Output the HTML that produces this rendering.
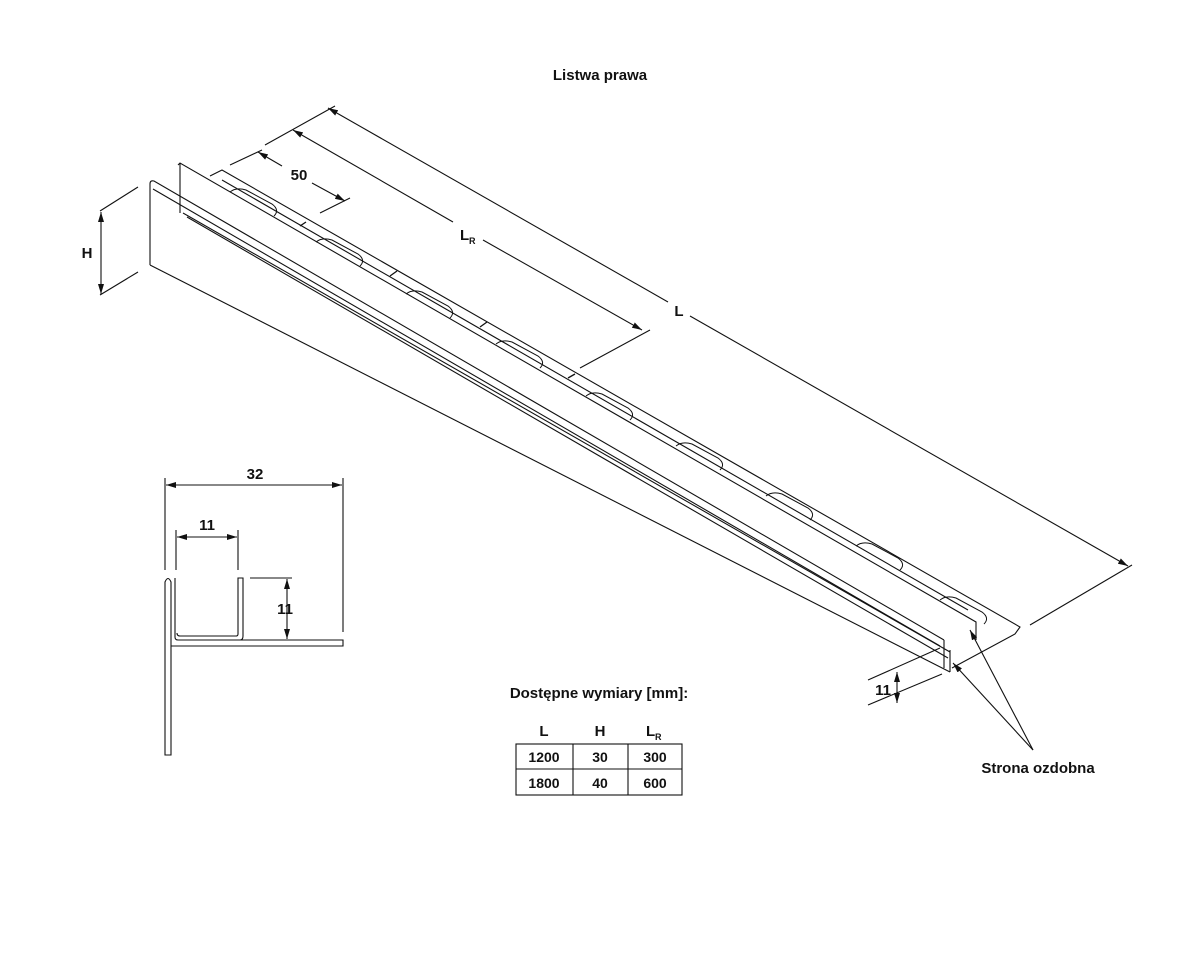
<!DOCTYPE html>
<html><head><meta charset="utf-8"><style>
html,body{margin:0;padding:0;background:#fff}
svg{display:block}
text{font-family:"Liberation Sans",Arial,sans-serif;font-weight:bold;fill:#111}
</style></head><body>
<svg width="1200" height="959" viewBox="0 0 1200 959" xmlns="http://www.w3.org/2000/svg">
<defs>
<marker id="a" viewBox="0 0 10 6" refX="10" refY="3" markerWidth="10" markerHeight="6" orient="auto-start-reverse" markerUnits="userSpaceOnUse"><path d="M0,0L10,3L0,6z" fill="#111"/></marker>
</defs>
<text x="600" y="80" font-size="15" text-anchor="middle">Listwa prawa</text>
<g stroke="#111" fill="none" stroke-width="1.1">
<!-- H dimension -->
<line x1="100" y1="211" x2="138" y2="187"/>
<line x1="100" y1="295" x2="138" y2="272"/>
<line x1="101" y1="212" x2="101" y2="294" marker-start="url(#a)" marker-end="url(#a)"/>
<!-- front panel -->
<path d="M150,265 L150,184 Q150,180 154,181 L944,640"/>
<line x1="150" y1="265" x2="950" y2="672"/>
<line x1="944" y1="640" x2="944" y2="668"/>
<line x1="950" y1="650" x2="950" y2="672"/>
<line x1="153" y1="189" x2="940" y2="646"/>
<!-- rear wall -->
<path d="M178,165 L180,163 L976,622 L976,640"/>
<line x1="180" y1="163" x2="180" y2="213"/>
<line x1="183" y1="213" x2="950" y2="652"/>
<line x1="187" y1="217" x2="948" y2="658"/>
<!-- base plate outer -->
<path d="M210,176 L222,170 L1020,627 L1015,634 L952,668"/>
<line x1="222" y1="180" x2="968" y2="610"/>
<!-- slots -->
<g stroke-width="1">
<path d="M230,192 q6,-5 16,-2 l26,14 q8,6 2,12"/>
<path d="M316,242 q6,-5 16,-2 l26,14 q8,6 2,12"/>
<path d="M406,294 q6,-5 16,-2 l26,14 q8,6 2,12"/>
<path d="M496,344 q6,-5 16,-2 l26,14 q8,6 2,12"/>
<path d="M586,396 q6,-5 16,-2 l26,14 q8,6 2,12"/>
<path d="M676,446 q6,-5 16,-2 l26,14 q8,6 2,12"/>
<path d="M766,496 q6,-5 16,-2 l26,14 q8,6 2,12"/>
<path d="M856,546 q6,-5 16,-2 l26,14 q8,6 2,12"/>
<path d="M940,600 q6,-5 16,-2 l26,14 q8,6 2,12"/>
</g>
<g stroke-width="1.3">
<line x1="300" y1="226" x2="306" y2="222"/>
<line x1="390" y1="276" x2="397" y2="271"/>
<line x1="480" y1="327" x2="487" y2="322"/>
<line x1="568" y1="378" x2="575" y2="374"/>
</g>
<!-- extension lines top -->
<line x1="230" y1="165" x2="262" y2="150"/>
<line x1="320" y1="213" x2="350" y2="198"/>
<line x1="265" y1="145" x2="335" y2="106"/>
<line x1="580" y1="368" x2="650" y2="330"/>
<line x1="1030" y1="625" x2="1132" y2="565"/>
<!-- 50 -->
<line x1="258" y1="152" x2="282" y2="166" marker-start="url(#a)"/>
<line x1="312" y1="183" x2="345" y2="201" marker-end="url(#a)"/>
<!-- LR -->
<line x1="293" y1="130" x2="453" y2="222" marker-start="url(#a)"/>
<line x1="483" y1="240" x2="642" y2="330" marker-end="url(#a)"/>
<!-- L -->
<line x1="328" y1="108" x2="668" y2="302" marker-start="url(#a)"/>
<line x1="690" y1="316" x2="1128" y2="566" marker-end="url(#a)"/>
<!-- 11 right -->
<line x1="868" y1="680" x2="940" y2="648"/>
<line x1="868" y1="705" x2="942" y2="674"/>
<line x1="897" y1="672" x2="897" y2="703" marker-start="url(#a)" marker-end="url(#a)"/>
<!-- Strona ozdobna leaders -->
<line x1="1033" y1="750" x2="953" y2="663" marker-end="url(#a)"/>
<line x1="1033" y1="750" x2="970" y2="630" marker-end="url(#a)"/>
<!-- cross section -->
<path d="M165,755 L165,582 Q168,575 171,582 L171,755 Z"/>
<path d="M171,646 L343,646 L343,640 L178,640 Q175,640 175,637 L175,578"/>
<path d="M178,640 L240,640 Q243,640 243,636 L243,578 L238,578 L238,634 Q238,636 236,636 L180,636 Q177,636 177,633"/>
<line x1="171" y1="646" x2="171" y2="646"/>
<line x1="165" y1="478" x2="165" y2="570"/>
<line x1="343" y1="478" x2="343" y2="632"/>
<line x1="166" y1="485" x2="342" y2="485" marker-start="url(#a)" marker-end="url(#a)"/>
<line x1="176" y1="530" x2="176" y2="570"/>
<line x1="238" y1="530" x2="238" y2="570"/>
<line x1="177" y1="537" x2="237" y2="537" marker-start="url(#a)" marker-end="url(#a)"/>
<line x1="250" y1="578" x2="292" y2="578"/>
<line x1="287" y1="579" x2="287" y2="639" marker-start="url(#a)" marker-end="url(#a)"/>
<!-- table -->
<rect x="516" y="744" width="166" height="51"/>
<line x1="516" y1="769" x2="682" y2="769"/>
<line x1="573" y1="744" x2="573" y2="795"/>
<line x1="628" y1="744" x2="628" y2="795"/>
</g>
<text x="299" y="180" font-size="15" text-anchor="middle">50</text>
<text x="460" y="240" font-size="15">L</text><text x="469" y="244" font-size="9">R</text>
<text x="679" y="316" font-size="15" text-anchor="middle">L</text>
<text x="87" y="258" font-size="15" text-anchor="middle">H</text>
<text x="883" y="695" font-size="15" text-anchor="middle">11</text>
<text x="1038" y="773" font-size="15" text-anchor="middle">Strona ozdobna</text>
<text x="255" y="479" font-size="15" text-anchor="middle">32</text>
<text x="207" y="530" font-size="15" text-anchor="middle">11</text>
<text x="285" y="614" font-size="15" text-anchor="middle">11</text>
<text x="599" y="698" font-size="15" text-anchor="middle">Dostępne wymiary [mm]:</text>
<text x="544" y="736" font-size="15" text-anchor="middle">L</text>
<text x="600" y="736" font-size="15" text-anchor="middle">H</text>
<text x="646" y="736" font-size="15">L</text><text x="655" y="740" font-size="9">R</text>
<text x="544" y="762" font-size="14" text-anchor="middle">1200</text>
<text x="600" y="762" font-size="14" text-anchor="middle">30</text>
<text x="655" y="762" font-size="14" text-anchor="middle">300</text>
<text x="544" y="788" font-size="14" text-anchor="middle">1800</text>
<text x="600" y="788" font-size="14" text-anchor="middle">40</text>
<text x="655" y="788" font-size="14" text-anchor="middle">600</text>
</svg>
</body></html>
